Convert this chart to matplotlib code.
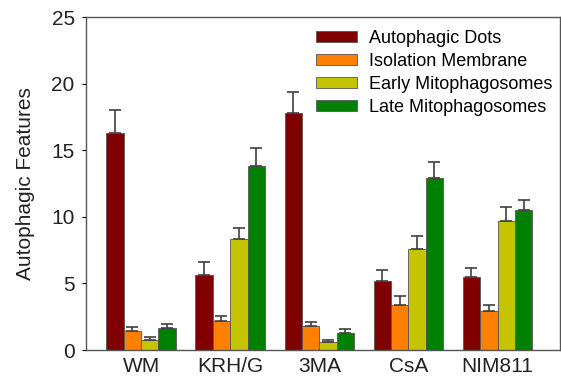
import numpy as np
import matplotlib.pyplot as plt

plt.rcParams['font.family'] = ['Liberation Sans', 'DejaVu Sans']

groups = ['WM', 'KRH/G', '3MA', 'CsA', 'NIM811']
series = ['Autophagic Dots', 'Isolation Membrane', 'Early Mitophagosomes', 'Late Mitophagosomes']
colors = ['#800000', '#ff8000', '#c4c400', '#008000']

dots = [16.3, 5.6, 17.8, 5.2, 5.45]
iso = [1.4, 2.2, 1.8, 3.4, 2.9]
early = [0.75, 8.3, 0.6, 7.6, 9.7]
late = [1.65, 13.8, 1.3, 12.9, 10.5]

dots_err = [1.7, 1.0, 1.6, 0.8, 0.7]
iso_err = [0.35, 0.35, 0.3, 0.65, 0.45]
early_err = [0.2, 0.85, 0.17, 0.95, 1.0]
late_err = [0.3, 1.4, 0.3, 1.25, 0.8]

values = [dots, iso, early, late]
errors = [dots_err, iso_err, early_err, late_err]

fig = plt.figure(figsize=(5.61, 3.78), dpi=100)
ax = fig.add_axes([0.153, 0.074, 0.845, 0.881])

x = np.arange(len(groups))
w = 0.195
for i in range(4):
    pos = x + (i - 1.5) * w
    ax.bar(pos, values[i], w, color=colors[i], edgecolor='#555555', linewidth=0.6,
           label=series[i], zorder=2)
    ax.errorbar(pos, values[i], yerr=[np.zeros(len(groups)), errors[i]], fmt='none',
                ecolor='#404040', elinewidth=1.2, capsize=4, capthick=1.2, zorder=3)

ax.set_xlim(-0.62, 4.7)
ax.set_ylim(0, 25)
ax.set_yticks([0, 5, 10, 15, 20, 25])
ax.set_xticks(x)
ax.set_xticklabels(groups, fontsize=15, color='#222222')
ax.tick_params(axis='y', labelsize=15, direction='out', length=3, pad=5, labelcolor='#222222')
ax.tick_params(axis='x', length=0, pad=5)
for s in ax.spines.values():
    s.set_color('#555555')
    s.set_linewidth(1.0)
ax.set_ylabel('Autophagic Features', fontsize=15, color='#222222', labelpad=12)

ax.legend(loc='upper right', frameon=False, fontsize=13, handlelength=2.3,
          handleheight=0.55, handletextpad=0.65, labelspacing=0.33,
          bbox_to_anchor=(1.018, 1.01))

fig.savefig('out.png', dpi=100)
